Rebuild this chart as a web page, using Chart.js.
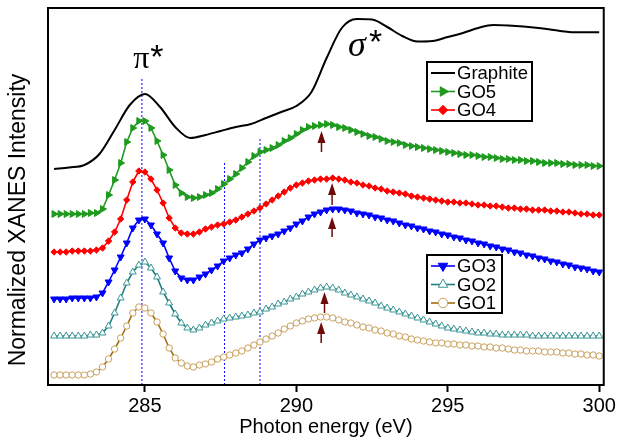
<!DOCTYPE html>
<html>
<head>
<meta charset="utf-8">
<script src="https://cdn.jsdelivr.net/npm/chart.js@4.4.1/dist/chart.umd.min.js"></script>
<style>
  body { margin: 0; background: #fff; }
  #wrap { width: 618px; height: 439px; }
</style>
</head>
<body>
<div id="wrap"><canvas id="xanes" width="618" height="439"></canvas></div>
<script>
// photon energy grid (eV) for the GO samples
const energy = [
  282, 282.2, 282.4, 282.6, 282.8, 283, 283.2, 283.4, 283.6, 283.8,
  284, 284.2, 284.4, 284.6, 284.8, 285, 285.2, 285.4, 285.6, 285.8,
  286, 286.2, 286.4, 286.6, 286.8, 287, 287.2, 287.4, 287.6, 287.8,
  288, 288.2, 288.4, 288.6, 288.8, 289, 289.2, 289.4, 289.6, 289.8,
  290, 290.2, 290.4, 290.6, 290.8, 291, 291.2, 291.4, 291.6, 291.8,
  292, 292.2, 292.4, 292.6, 292.8, 293, 293.2, 293.4, 293.6, 293.8,
  294, 294.2, 294.4, 294.6, 294.8, 295, 295.2, 295.4, 295.6, 295.8,
  296, 296.2, 296.4, 296.6, 296.8, 297, 297.2, 297.4, 297.6, 297.8,
  298, 298.2, 298.4, 298.6, 298.8, 299, 299.2, 299.4, 299.6, 299.8,
  300
];

// normalized intensity (arb. units, curves offset vertically)
const go5 = [
  171, 171, 171, 171, 171, 171, 172, 172, 176, 190,
  205, 222, 243, 257, 264, 264, 257, 244, 230, 215,
  200, 192, 188, 187, 188, 190, 192, 196, 201, 206,
  211, 217, 223, 229, 233, 235, 237, 240, 244, 247,
  251, 255, 258, 259, 260, 261, 260, 258, 257, 255,
  253, 251, 249, 248, 246, 244, 243, 242, 240, 239,
  238, 237, 236, 235, 234, 233, 232, 231, 230, 230,
  229, 228, 228, 227, 226, 226, 225, 225, 224, 224,
  223, 222, 222, 222, 221, 221, 220, 220, 220, 219,
  219
];
const go4 = [
  133, 133, 133, 134, 134, 134, 134, 135, 137, 144,
  153, 166, 185, 203, 214, 213, 206, 195, 182, 167,
  157, 152, 151, 151, 153, 156, 158, 160, 161, 163,
  165, 168, 171, 174, 177, 181, 185, 189, 193, 197,
  200, 202, 204, 205, 206, 206, 207, 206, 205, 203,
  202, 200, 199, 197, 196, 194, 193, 192, 191, 189,
  188, 187, 186, 185, 184, 183, 183, 182, 182, 181,
  180, 180, 179, 179, 178, 177, 177, 176, 176, 175,
  175, 175, 174, 174, 173, 173, 172, 171, 171, 170,
  170
];
const go3 = [
  86, 86, 86, 87, 87, 87, 87, 88, 92, 103,
  115, 128, 142, 157, 165, 166, 160, 151, 142, 127,
  114, 107, 105, 105, 108, 111, 115, 119, 124, 127,
  130, 132, 136, 141, 145, 147, 149, 151, 154, 157,
  161, 164, 168, 171, 173, 175, 176, 176, 175, 174,
  172, 171, 170, 168, 167, 165, 164, 162, 160, 159,
  157, 156, 154, 153, 151, 150, 148, 147, 145, 144,
  142, 141, 139, 138, 136, 135, 133, 132, 130, 129,
  127, 126, 124, 123, 121, 120, 118, 117, 116, 114,
  113
];
const go2 = [
  49, 49, 49, 49, 49, 49, 50, 50, 52, 59,
  72, 87, 102, 113, 120, 123, 117, 108, 93, 82,
  71, 62, 57, 55, 57, 60, 62, 64, 66, 67,
  68, 69, 70, 72, 73, 76, 78, 81, 83, 86,
  88, 91, 93, 95, 97, 98, 97, 95, 92, 90,
  88, 86, 84, 82, 79, 77, 75, 73, 71, 69,
  67, 65, 63, 61, 59, 57, 56, 55, 54, 53,
  52, 52, 51, 51, 50, 50, 50, 50, 50, 49,
  49, 49, 49, 49, 49, 49, 49, 49, 49, 49,
  49
];
const go1 = [
  10, 10, 10, 10, 10, 10, 11, 13, 18, 26,
  36, 47, 59, 72, 78, 77, 72, 63, 51, 37,
  27, 22, 19, 18, 20, 21, 23, 26, 28, 30,
  32, 34, 37, 40, 43, 46, 49, 52, 56, 59,
  62, 64, 66, 67, 68, 68, 67, 65, 63, 62,
  60, 58, 57, 55, 54, 52, 51, 49, 48, 46,
  45, 44, 43, 42, 42, 41, 41, 40, 40, 39,
  39, 38, 38, 37, 37, 36, 35, 35, 34, 34,
  34, 33, 33, 33, 32, 32, 31, 31, 30, 30,
  29
];

// graphite reference, coarser grid
const graphiteEnergy = [
  282, 282.5, 283, 283.5, 284, 284.5, 285, 285.5, 286, 286.5,
  287, 287.5, 288, 288.5, 289, 289.5, 290, 290.5, 291, 291.5,
  292, 292.5, 293, 293.5, 294, 294.5, 295, 295.5, 296, 296.5,
  297, 297.5, 298, 298.5, 299, 299.5, 300
];
const graphite = [
  216, 217.5, 220, 231, 255, 280, 291, 278, 258, 247,
  250, 254, 258, 261, 267, 273, 279, 293, 327, 357,
  366, 365.5, 358, 349, 343.5, 344, 348, 352, 357, 360,
  359.5, 358.5, 357, 355, 353, 352.7, 352.7
];

// dotted guide lines: energy and top of the line
const guideEnergy = [284.9, 287.63, 288.8];
const guideTop = [307, 224, 248];

// sigma* peak arrows (GO5, GO4, GO3, GO2, GO1)
const arrowEnergy = [290.83, 291.18, 291.18, 290.93, 290.82];
const arrowTip = [254, 202, 168, 93, 63];
const arrowBase = [233, 180, 148, 72, 42];

const xTicks = [285, 290, 295, 300];

const FONT = "'Liberation Sans', Arial, sans-serif";
const SERIF = "'Liberation Serif', 'Times New Roman', serif";

const pts = (xs, ys) => xs.map((v, i) => ({ x: v, y: ys[i] }));

const guideSets = guideEnergy.map((e, i) => ({
  label: '_guide' + i,
  data: [{ x: e, y: 0 }, { x: e, y: guideTop[i] }],
  borderColor: '#0000ff',
  borderWidth: 1,
  borderDash: [2, 2],
  pointRadius: 0,
  order: 10
}));

const series = [
  { label: 'Graphite', data: pts(graphiteEnergy, graphite), borderColor: '#000', borderWidth: 2,
    pointRadius: 0, cubicInterpolationMode: 'monotone' },
  { label: 'GO5', data: pts(energy, go5), borderColor: '#1e9a1e', backgroundColor: '#1e9a1e',
    pointStyle: 'triangle', rotation: 90, pointRadius: 4, pointBorderWidth: 1 },
  { label: 'GO4', data: pts(energy, go4), borderColor: '#ff0000', backgroundColor: '#ff0000',
    pointStyle: 'rectRot', pointRadius: 3.2, pointBorderWidth: 1 },
  { label: 'GO3', data: pts(energy, go3), borderColor: '#0000ff', backgroundColor: '#0000ff',
    pointStyle: 'triangle', rotation: 180, pointRadius: 4, pointBorderWidth: 1 },
  { label: 'GO2', data: pts(energy, go2), borderColor: '#1f7f7f', backgroundColor: '#ffffff',
    pointBorderColor: '#3a9494', pointStyle: 'triangle', pointRadius: 4, pointBorderWidth: 1 },
  { label: 'GO1', data: pts(energy, go1), borderColor: '#a06e10', backgroundColor: '#ffffff',
    pointBorderColor: '#c9a05c', pointStyle: 'circle', pointRadius: 3.2, pointBorderWidth: 1 }
];
series.forEach(s => {
  s.borderWidth = s.borderWidth || 1.6;
  s.pointBackgroundColor = s.backgroundColor;
  s.pointBorderColor = s.pointBorderColor || s.borderColor;
  s.pointHoverRadius = s.pointRadius;
  s.tension = 0;
  s.order = 1;
});

function drawMark(ctx, ds, cx, cy) {
  if (!ds.pointRadius) return;
  ctx.fillStyle = ds.pointBackgroundColor;
  ctx.strokeStyle = ds.pointBorderColor;
  ctx.lineWidth = ds.pointBorderWidth;
  Chart.helpers.drawPoint(ctx, {
    pointStyle: ds.pointStyle, rotation: ds.rotation || 0,
    radius: ds.pointRadius + 1.5, borderWidth: ds.pointBorderWidth
  }, cx, cy);
}

const legendBoxes = [
  { x: 427, y: 62, w: 105, h: 59, items: ['Graphite', 'GO5', 'GO4'] },
  { x: 427, y: 255, w: 75, h: 58, items: ['GO3', 'GO2', 'GO1'] }
];

const extras = {
  id: 'extras',
  afterDraw(chart) {
    const { ctx, chartArea: a, scales: { x, y } } = chart;
    ctx.save();

    // frame around the plot
    ctx.strokeStyle = '#000';
    ctx.lineWidth = 2;
    ctx.strokeRect(a.left, a.top, a.right - a.left, a.bottom - a.top);

    // arrows
    ctx.strokeStyle = ctx.fillStyle = '#6e0a0a';
    arrowEnergy.forEach((e, i) => {
      const px = x.getPixelForValue(e);
      const tip = y.getPixelForValue(arrowTip[i]);
      const base = y.getPixelForValue(arrowBase[i]);
      ctx.lineWidth = 1.5;
      ctx.beginPath();
      ctx.moveTo(px, base);
      ctx.lineTo(px, tip + 8);
      ctx.stroke();
      ctx.beginPath();
      ctx.moveTo(px, tip);
      ctx.lineTo(px - 4, tip + 12);
      ctx.lineTo(px + 4, tip + 12);
      ctx.closePath();
      ctx.fill();
    });

    // pi* and sigma* labels
    ctx.fillStyle = '#000';
    ctx.textBaseline = 'alphabetic';
    ctx.textAlign = 'center';
    ctx.font = '32px ' + SERIF;
    const piX = x.getPixelForValue(284.88);
    ctx.fillText('\u03c0', piX, 68);
    ctx.font = 'italic 36px ' + SERIF;
    const sgX = x.getPixelForValue(292.0);
    ctx.fillText('\u03c3', sgX, 56);
    ctx.textAlign = 'left';
    ctx.font = '34px ' + FONT;
    ctx.fillText('*', piX + 9, 68);
    ctx.fillText('*', sgX + 12, 53);

    // y axis title
    ctx.save();
    ctx.translate(19, 220);
    ctx.rotate(-Math.PI / 2);
    ctx.textAlign = 'center';
    ctx.textBaseline = 'middle';
    ctx.font = '23px ' + FONT;
    ctx.fillText('Normalized XANES Intensity', 0, 0);
    ctx.restore();

    // two legend boxes
    legendBoxes.forEach(box => {
      ctx.fillStyle = '#fff';
      ctx.fillRect(box.x, box.y, box.w, box.h);
      ctx.strokeStyle = '#000';
      ctx.lineWidth = 2;
      ctx.strokeRect(box.x, box.y, box.w, box.h);
      box.items.forEach((lab, i) => {
        const ds = chart.data.datasets.find(d => d.label === lab);
        const cy = box.y + 11 + i * 18.5;
        ctx.strokeStyle = ds.borderColor;
        ctx.lineWidth = ds.borderWidth;
        ctx.beginPath();
        ctx.moveTo(box.x + 4, cy);
        ctx.lineTo(box.x + 28, cy);
        ctx.stroke();
        drawMark(ctx, ds, box.x + 16, cy);
        ctx.fillStyle = '#000';
        ctx.font = '18.5px ' + FONT;
        ctx.textAlign = 'left';
        ctx.textBaseline = 'middle';
        ctx.fillText(lab, box.x + 30, cy + 1);
      });
    });
    ctx.restore();
  }
};

new Chart(document.getElementById('xanes'), {
  type: 'line',
  data: { datasets: [...series, ...guideSets] },
  options: {
    responsive: false,
    animation: false,
    layout: { padding: { left: 0, right: 14, top: 8, bottom: 0 } },
    plugins: { legend: { display: false }, tooltip: { enabled: false } },
    scales: {
      x: {
        type: 'linear',
        min: 281.8,
        max: 300.15,
        afterBuildTicks: s => { s.ticks = xTicks.map(v => ({ value: v })); },
        afterFit: s => { s.height = 54; },
        ticks: { font: { family: FONT, size: 20 }, color: '#000', padding: 2, maxRotation: 0 },
        grid: { drawOnChartArea: false, drawTicks: true, tickLength: 7, tickWidth: 2, tickColor: '#000' },
        border: { display: false },
        title: { display: true, text: 'Photon energy (eV)', color: '#000',
                 font: { family: FONT, size: 20 }, padding: { top: 0, bottom: 0 } }
      },
      y: {
        min: 0,
        max: 377,
        afterFit: s => { s.width = 48; },
        ticks: { display: false },
        grid: { display: false },
        border: { display: false }
      }
    }
  },
  plugins: [extras]
});
</script>
</body>
</html>
